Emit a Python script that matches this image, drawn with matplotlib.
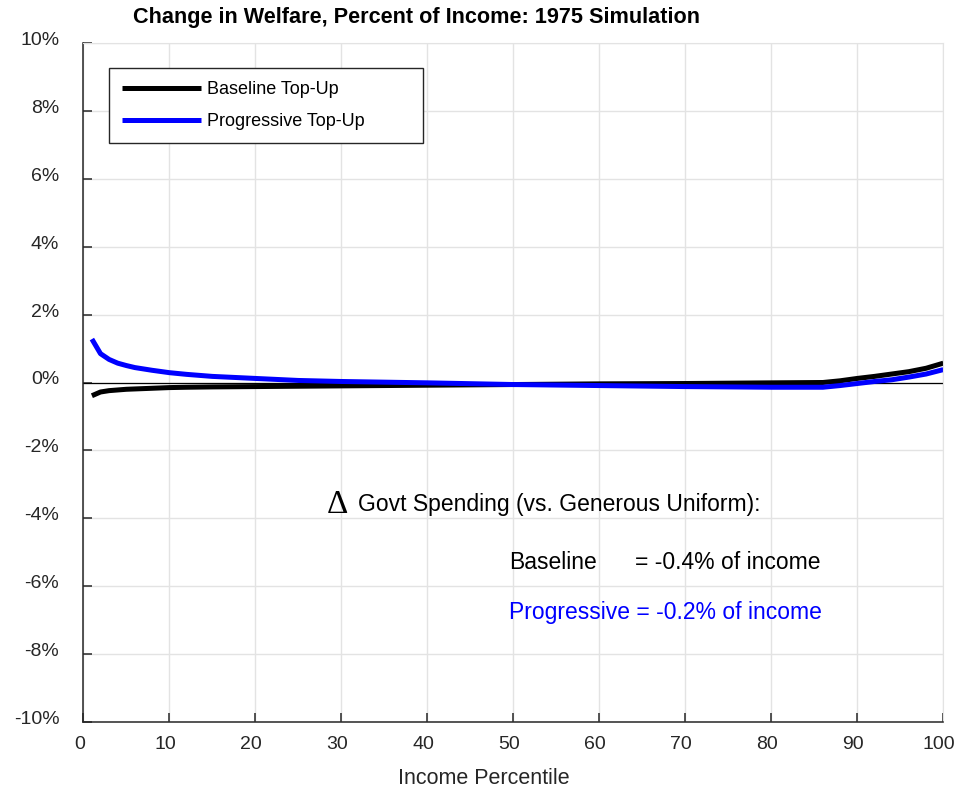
import matplotlib.pyplot as plt
import matplotlib.transforms as mtransforms
import numpy as np

# values (percent of income)
pctile = [1, 2, 3, 4, 5, 6, 8, 10, 12, 15, 20, 25, 30, 35, 40, 50, 60, 70, 80,
          86, 88, 90, 92, 94, 96, 98, 100]
baseline = [-0.39, -0.28, -0.24, -0.22, -0.20, -0.19, -0.17, -0.15, -0.14, -0.13,
            -0.12, -0.11, -0.10, -0.09, -0.08, -0.06, -0.04, -0.03, -0.01,
            0.00, 0.05, 0.12, 0.18, 0.25, 0.32, 0.42, 0.57]
progressive = [1.28, 0.85, 0.68, 0.57, 0.50, 0.44, 0.36, 0.29, 0.24, 0.18,
               0.12, 0.06, 0.03, 0.01, -0.01, -0.06, -0.09, -0.12, -0.14,
               -0.14, -0.09, -0.03, 0.03, 0.08, 0.16, 0.25, 0.38]

xticks = list(range(0, 101, 10))
yticks = list(range(-10, 11, 2))

plt.rcParams['font.family'] = ['Liberation Sans', 'DejaVu Sans']

fig = plt.figure(figsize=(9.58, 7.95), dpi=100)
ax = fig.add_axes([83.3 / 958, 1 - 721.7 / 795, (943.3 - 83.3) / 958, (721.7 - 43.3) / 795])

ax.plot(pctile, baseline, color='black', lw=3.6, label='Baseline Top-Up',
        solid_capstyle='butt')
ax.plot(pctile, progressive, color='#0000ff', lw=3.6, label='Progressive Top-Up',
        solid_capstyle='butt')
ax.axhline(0, color='black', lw=0.9, zorder=1.5)

ax.set_xlim(0, 100)
ax.set_ylim(-10, 10)
ax.set_xticks(xticks)
ax.set_yticks(yticks)
ax.set_yticklabels([f'{v}%' for v in yticks])
ax.grid(True, color='#e3e3e3', lw=1)
ax.set_axisbelow(True)

for side in ['top', 'right']:
    ax.spines[side].set_color('#e3e3e3')
for side in ['left', 'bottom']:
    ax.spines[side].set_color('#262626')
    ax.spines[side].set_linewidth(1.1)

ax.tick_params(axis='both', direction='in', length=6.5, width=1.1,
               colors='#262626', labelsize=14)
ax.tick_params(axis='y', pad=17.3)
ax.tick_params(axis='x', pad=10)

# tick labels sit slightly off their ticks in the reference
xshift = mtransforms.ScaledTranslation(-4 / 100, 0, fig.dpi_scale_trans)
for lab in ax.get_xticklabels():
    lab.set_transform(lab.get_transform() + xshift)
yshift = mtransforms.ScaledTranslation(0, 4.5 / 100, fig.dpi_scale_trans)
for lab in ax.get_yticklabels():
    lab.set_transform(lab.get_transform() + yshift)

ax.set_xlabel('Income Percentile', fontsize=15.5, color='#262626')
ax.xaxis.set_label_coords((484 - 83.3) / 860, -0.068)

fig.text(133 / 958, 1 - 17 / 795, 'Change in Welfare, Percent of Income: 1975 Simulation',
         fontsize=15.6, fontweight='bold', ha='left', va='center')

leg = ax.legend(loc='upper left',
                bbox_to_anchor=(25.7 / 860, 1 - 24.7 / 678.4 - 0.01, 314 / 860, 0.01),
                mode='expand', fontsize=13, frameon=True, fancybox=False,
                edgecolor='#262626', handlelength=4.4, borderpad=0.72,
                labelspacing=0.83, handletextpad=0.3, borderaxespad=0)
leg.get_frame().set_linewidth(1)
leg.get_frame().set_alpha(1)
leg.set_zorder(5)

# spending annotation
ax.text(28.3, -3.85, '\u0394', fontsize=24, family='Liberation Serif',
        ha='left', va='baseline')
ax.text(31.98, -3.78, 'Govt Spending (vs. Generous Uniform):', fontsize=16.5,
        ha='left', va='baseline')
ax.text(49.5, -5.51, 'Baseline', fontsize=16.5, ha='left', va='baseline')
ax.text(64.1, -5.51, '= -0.4% of income', fontsize=16.5, ha='left', va='baseline')
ax.text(49.5, -6.98, 'Progressive = -0.2% of income', fontsize=16.5, color='#0000ff',
        ha='left', va='baseline')

fig.savefig('out.png', dpi=100)
